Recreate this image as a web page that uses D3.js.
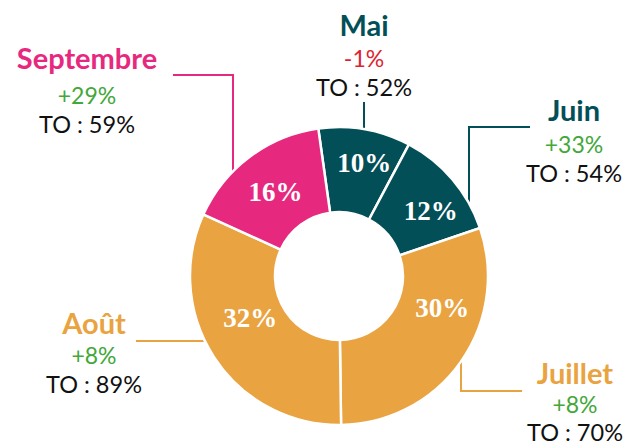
<!DOCTYPE html>
<html>
<head>
<meta charset="utf-8">
<script src="https://cdn.jsdelivr.net/npm/d3@7"></script>
<style>
  body { margin: 0; background: #fff; }
  svg { display: block; font-family: Lato, "Open Sans", sans-serif; }
</style>
</head>
<body>
<div id="chart"></div>
<script>
// data
var months = ["Mai", "Juin", "Juillet", "Août", "Septembre"];
var shares = [10, 12, 30, 32, 16];
var evolutions = ["-1%", "+33%", "+8%", "+8%", "+29%"];
var occupancy = [52, 54, 70, 89, 59];
var colors = ["#034f58", "#034f58", "#e9a341", "#e9a341", "#e6297f"];

// layout of the callouts (label anchor + leader line)
var callouts = {
  "Mai":       {x: 364, y: 36,  gap: [31, 29], line: [[364, 102], [364, 140]]},
  "Juin":      {x: 574, y: 121, gap: [32, 29], line: [[530, 127], [469, 127], [469, 215]]},
  "Juillet":   {x: 575, y: 384, gap: [29, 28], line: [[461, 345], [461, 391], [522, 391]]},
  "Août":      {x: 94,  y: 334, gap: [30, 29], line: [[136, 341], [205, 341]]},
  "Septembre": {x: 87,  y: 69,  gap: [35, 29], line: [[173, 75], [233, 75], [233, 180]]}
};
// where the % label sits inside each slice (fraction of slice angle, radius)
var labelPos = {
  "Mai": [0.57, 116], "Juin": [0.61, 113], "Juillet": [0.33, 108],
  "Août": [0.57, 98], "Septembre": [0.5, 106]
};

var width = 637, height = 443;
var cx = 339, cy = 276, outerR = 149, innerR = 64;

var svg = d3.select("#chart")
  .append("svg")
    .attr("width", width)
    .attr("height", height);

var data = months.map(function(m, i) {
  return {month: m, share: shares[i], evo: evolutions[i], to: occupancy[i], color: colors[i]};
});

// leader lines go first, the donut covers their ends
var line = d3.line();
svg.append("g")
  .selectAll("path")
  .data(data)
  .join("path")
    .attr("d", d => line(callouts[d.month].line))
    .attr("fill", "none")
    .attr("stroke", d => d.color)
    .attr("stroke-width", 2);

var start = -8 * Math.PI / 180;
var pie = d3.pie()
  .sort(null)
  .value(d => d.share)
  .startAngle(start)
  .endAngle(start + 2 * Math.PI);

var arc = d3.arc().innerRadius(innerR).outerRadius(outerR);

var donut = svg.append("g")
  .attr("transform", "translate(" + cx + "," + cy + ")");

var arcs = pie(data);

donut.selectAll("path")
  .data(arcs)
  .join("path")
    .attr("d", arc)
    .attr("fill", d => d.data.color)
    .attr("stroke", "#fff")
    .attr("stroke-width", 2.5);

donut.selectAll("text")
  .data(arcs)
  .join("text")
    .attr("transform", function(d) {
      var p = labelPos[d.data.month];
      var a = d.startAngle + (d.endAngle - d.startAngle) * p[0];
      return "translate(" + (p[1] * Math.sin(a)) + "," + (-p[1] * Math.cos(a)) + ")";
    })
    .attr("text-anchor", "middle")
    .attr("dy", "0.35em")
    .attr("fill", "#fff")
    .style("font-family", "'Liberation Serif', 'DejaVu Serif', serif")
    .style("font-weight", 700)
    .style("font-size", "27px")
    .text(d => d.data.share + "%");

// callout texts
var labels = svg.append("g")
  .selectAll("g")
  .data(data)
  .join("g")
    .attr("transform", d => "translate(" + callouts[d.month].x + "," + callouts[d.month].y + ")")
    .attr("text-anchor", "middle");

labels.append("text")
  .attr("fill", d => d.color)
  .style("font-weight", 700)
  .style("font-size", "29px")
  .text(d => d.month);

labels.append("text")
  .attr("y", d => callouts[d.month].gap[0])
  .attr("fill", d => d.evo.charAt(0) === "-" ? "#dc2430" : "#43a73a")
  .style("font-size", "23px")
  .text(d => d.evo);

labels.append("text")
  .attr("y", d => callouts[d.month].gap[0] + callouts[d.month].gap[1])
  .attr("fill", "#111")
  .style("font-size", "23.5px")
  .text(d => "TO : " + d.to + "%");
</script>
</body>
</html>
